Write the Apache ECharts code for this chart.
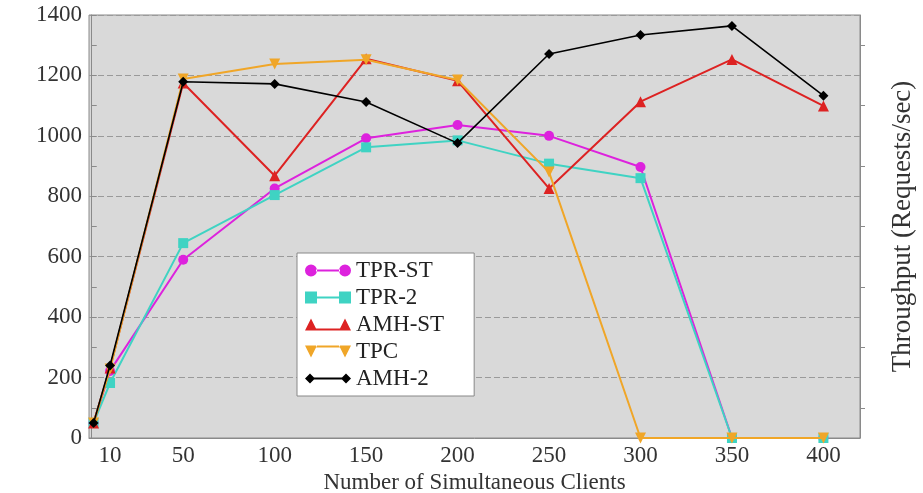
<!DOCTYPE html>
<html>
<head>
<meta charset="utf-8">
<script src="https://cdn.jsdelivr.net/npm/echarts@6/dist/echarts.min.js"></script>
<style>
html,body{margin:0;padding:0;background:#fff;}
#c{width:923px;height:493px;}
</style>
</head>
<body>
<div id="c"></div>
<script>
// Data
var clients = [1, 10, 50, 100, 150, 200, 250, 300, 350, 400];
var xTickLabels = [10, 50, 100, 150, 200, 250, 300, 350, 400];
var seriesNames = ['TPR-ST', 'TPR-2', 'AMH-ST', 'TPC', 'AMH-2'];
var tprST  = [50, 222, 590, 826, 992, 1036, 1000, 897, 0, 0];
var tpr2   = [50, 182, 645, 804, 962, 985, 908, 860, 0, 0];
var amhST  = [50, 232, 1175, 868, 1255, 1182, 826, 1113, 1253, 1099];
var tpc    = [50, 228, 1188, 1238, 1252, 1185, 880, 0, 0, 0];
var amh2   = [50, 240, 1179, 1172, 1112, 976, 1271, 1334, 1364, 1133];

var colors = ['#dd22dd', '#3fd3c3', '#dd2222', '#f0a628', '#000000'];
var symbols = ['circle', 'rect', 'triangle', 'triangle', 'diamond'];
var rotations = [0, 0, 0, 180, 0];
var sizes = [10, 10, 11, 11, 10];
var allData = [tprST, tpr2, amhST, tpc, amh2];

function pairs(arr) {
  return clients.map(function (x, i) { return [x, arr[i]]; });
}

var iconPaths = {
  circle: 'path://M0,7a6,6 0 1,0 12,0a6,6 0 1,0 -12,0Z M11,6h24v2h-24Z M34,7a6,6 0 1,0 12,0a6,6 0 1,0 -12,0Z',
  rect: 'path://M0,1h12v12h-12Z M11,6h24v2h-24Z M34,1h12v12h-12Z',
  triangle: 'path://M0,13L6,1L12,13Z M11,11h24v2h-24Z M34,13L40,1L46,13Z',
  down: 'path://M0,1L6,13L12,1Z M11,1h24v2h-24Z M34,1L40,13L46,1Z',
  diamond: 'path://M0,7L5,2L10,7L5,12Z M9,6h28v2h-28Z M36,7L41,2L46,7L41,12Z'
};
var legendIcons = [iconPaths.circle, iconPaths.rect, iconPaths.triangle, iconPaths.down, iconPaths.diamond];

var font = 'Liberation Serif';
var chart = echarts.init(document.getElementById('c'), null, {renderer: 'canvas'});

var series = seriesNames.map(function (name, i) {
  return {
    name: name,
    type: 'line',
    data: pairs(allData[i]),
    symbol: symbols[i],
    symbolSize: sizes[i],
    symbolRotate: rotations[i],
    showAllSymbol: true,
    lineStyle: {color: colors[i], width: i === 4 ? 1.6 : 2},
    itemStyle: {color: colors[i]},
    emphasis: {disabled: true},
    animation: false,
    z: 2 + i
  };
});

chart.setOption({
  animation: false,
  backgroundColor: '#ffffff',
  color: colors,
  grid: {left: 89, top: 15, right: 63, bottom: 55, outerBoundsMode: 'none', containLabel: false, show: true, backgroundColor: '#d9d9d9', borderColor: '#8a8a8a', borderWidth: 1},
  legend: {
    orient: 'vertical',
    left: 297, top: 253,
    data: seriesNames.map(function (n, i) { return {name: n, icon: legendIcons[i]}; }),
    itemWidth: 46, itemHeight: 13, itemGap: 4, itemTextGap: 6,
    backgroundColor: '#ffffff', borderColor: '#888888', borderWidth: 1,
    padding: [6, 30, 6, 8],
    textStyle: {fontFamily: font, fontSize: 23, color: '#222'}
  },
  xAxis: {
    type: 'value',
    min: -1.5, max: 420,
    name: 'Number of Simultaneous Clients',
    nameLocation: 'middle', nameGap: 31,
    nameTextStyle: {fontFamily: font, fontSize: 23, color: '#333'},
    axisLine: {show: true, lineStyle: {color: '#8a8a8a'}},
    axisTick: {show: false},
    splitLine: {show: false},
    axisLabel: {customValues: xTickLabels, fontFamily: font, fontSize: 23, color: '#333', margin: 6, showMinLabel: true, showMaxLabel: true, hideOverlap: false}
  },
  yAxis: [{
    type: 'value', min: 0, max: 1400, interval: 200,
    position: 'left',
    axisLine: {show: true, lineStyle: {color: '#8a8a8a'}},
    axisTick: {show: true, inside: true, length: 5, lineStyle: {color: '#8a8a8a'}},
    minorTick: {show: true, splitNumber: 2, length: 5, lineStyle: {color: '#8a8a8a'}},
    splitLine: {show: true, lineStyle: {color: '#9a9a9a', type: [6, 3], width: 1}},
    axisLabel: {fontFamily: font, fontSize: 23, color: '#333', margin: 7, formatter: function (v) { return String(v); }}
  }, {
    type: 'value', min: 0, max: 1400, interval: 200,
    position: 'right',
    name: 'Throughput (Requests/sec)',
    nameLocation: 'middle', nameGap: 29, nameRotate: 90,
    nameTextStyle: {fontFamily: font, fontSize: 27, color: '#333'},
    axisLine: {show: true, lineStyle: {color: '#8a8a8a'}},
    axisTick: {show: false},
    minorTick: {show: true, splitNumber: 2, length: 5, lineStyle: {color: '#8a8a8a'}},
    splitLine: {show: false},
    axisLabel: {show: false}
  }],
  series: series
});
</script>
</body>
</html>
